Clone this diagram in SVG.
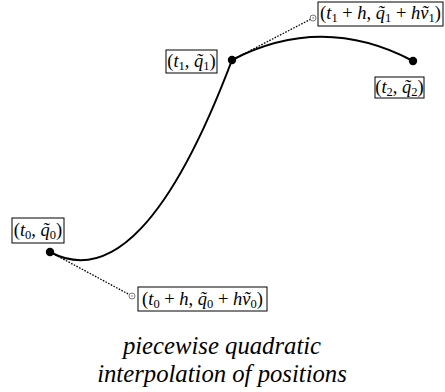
<svg xmlns="http://www.w3.org/2000/svg" width="445" height="392" viewBox="0 0 445 392">
<style>
.curve{fill:none;stroke:#000;stroke-width:2}
.dot{stroke:#000;stroke-width:1.3;stroke-dasharray:1.6 1.4;fill:none}
.box{fill:#fff;stroke:#000;stroke-width:1}
.m{font-family:'Liberation Serif', serif;font-size:18.5px;fill:#000}
.i{font-style:italic}
.s{font-size:12.5px}
.cap{font-family:'Liberation Serif', serif;font-size:24.7px;font-style:italic;fill:#000}
.pt{fill:#000}
.hol{fill:#fff;stroke:#555;stroke-width:0.8}
</style>
<g id="connectors">
<path class="curve" d="M50,252 Q141,300.8 232,60"/>
<path class="curve" d="M232,60 Q322.5,13.1 413,61"/>
<line class="dot" x1="50" y1="252" x2="132" y2="296"/>
<line class="dot" x1="232" y1="60" x2="313" y2="18"/>
</g>
<g id="p0"><circle class="pt" cx="50" cy="252" r="4.2"/></g>
<g id="p1"><circle class="pt" cx="232" cy="60" r="4.2"/></g>
<g id="p2"><circle class="pt" cx="413" cy="61" r="4.2"/></g>
<g id="h0"><circle class="hol" cx="132" cy="296" r="3"/><circle cx="132" cy="296" r="0.7" fill="#555"/></g>
<g id="h1"><circle class="hol" cx="313" cy="18" r="3"/><circle cx="313" cy="18" r="0.7" fill="#555"/></g>
<g id="label-t0">
<rect class="box" x="12" y="218" width="52" height="25"/>
<text class="m" x="38" y="236" text-anchor="middle">(<tspan class="i">t</tspan><tspan class="s" dy="3">0</tspan><tspan dy="-3">, </tspan><tspan class="i">q̃</tspan><tspan class="s" dy="3">0</tspan><tspan dy="-3">)</tspan></text>
</g>
<g id="label-t0h">
<rect class="box" x="138" y="287" width="129" height="24"/>
<text class="m" x="202.5" y="305" text-anchor="middle">(<tspan class="i">t</tspan><tspan class="s" dy="3">0</tspan><tspan dy="-3"> + </tspan><tspan class="i">h</tspan>, <tspan class="i">q̃</tspan><tspan class="s" dy="3">0</tspan><tspan dy="-3"> + </tspan><tspan class="i">hṽ</tspan><tspan class="s" dy="3">0</tspan><tspan dy="-3">)</tspan></text>
</g>
<g id="label-t1">
<rect class="box" x="166" y="50" width="51" height="23"/>
<text class="m" x="191.5" y="67" text-anchor="middle">(<tspan class="i">t</tspan><tspan class="s" dy="3">1</tspan><tspan dy="-3">, </tspan><tspan class="i">q̃</tspan><tspan class="s" dy="3">1</tspan><tspan dy="-3">)</tspan></text>
</g>
<g id="label-t1h">
<rect class="box" x="318" y="2" width="125" height="24"/>
<text class="m" x="380.5" y="19" text-anchor="middle">(<tspan class="i">t</tspan><tspan class="s" dy="3">1</tspan><tspan dy="-3"> + </tspan><tspan class="i">h</tspan>, <tspan class="i">q̃</tspan><tspan class="s" dy="3">1</tspan><tspan dy="-3"> + </tspan><tspan class="i">hṽ</tspan><tspan class="s" dy="3">1</tspan><tspan dy="-3">)</tspan></text>
</g>
<g id="label-t2">
<rect class="box" x="375" y="77" width="49" height="21"/>
<text class="m" x="399.5" y="93" text-anchor="middle">(<tspan class="i">t</tspan><tspan class="s" dy="3">2</tspan><tspan dy="-3">, </tspan><tspan class="i">q̃</tspan><tspan class="s" dy="3">2</tspan><tspan dy="-3">)</tspan></text>
</g>
<g id="caption">
<text class="cap" x="222" y="354" text-anchor="middle">piecewise quadratic</text>
<text class="cap" x="222" y="382" text-anchor="middle">interpolation of positions</text>
</g>
</svg>
